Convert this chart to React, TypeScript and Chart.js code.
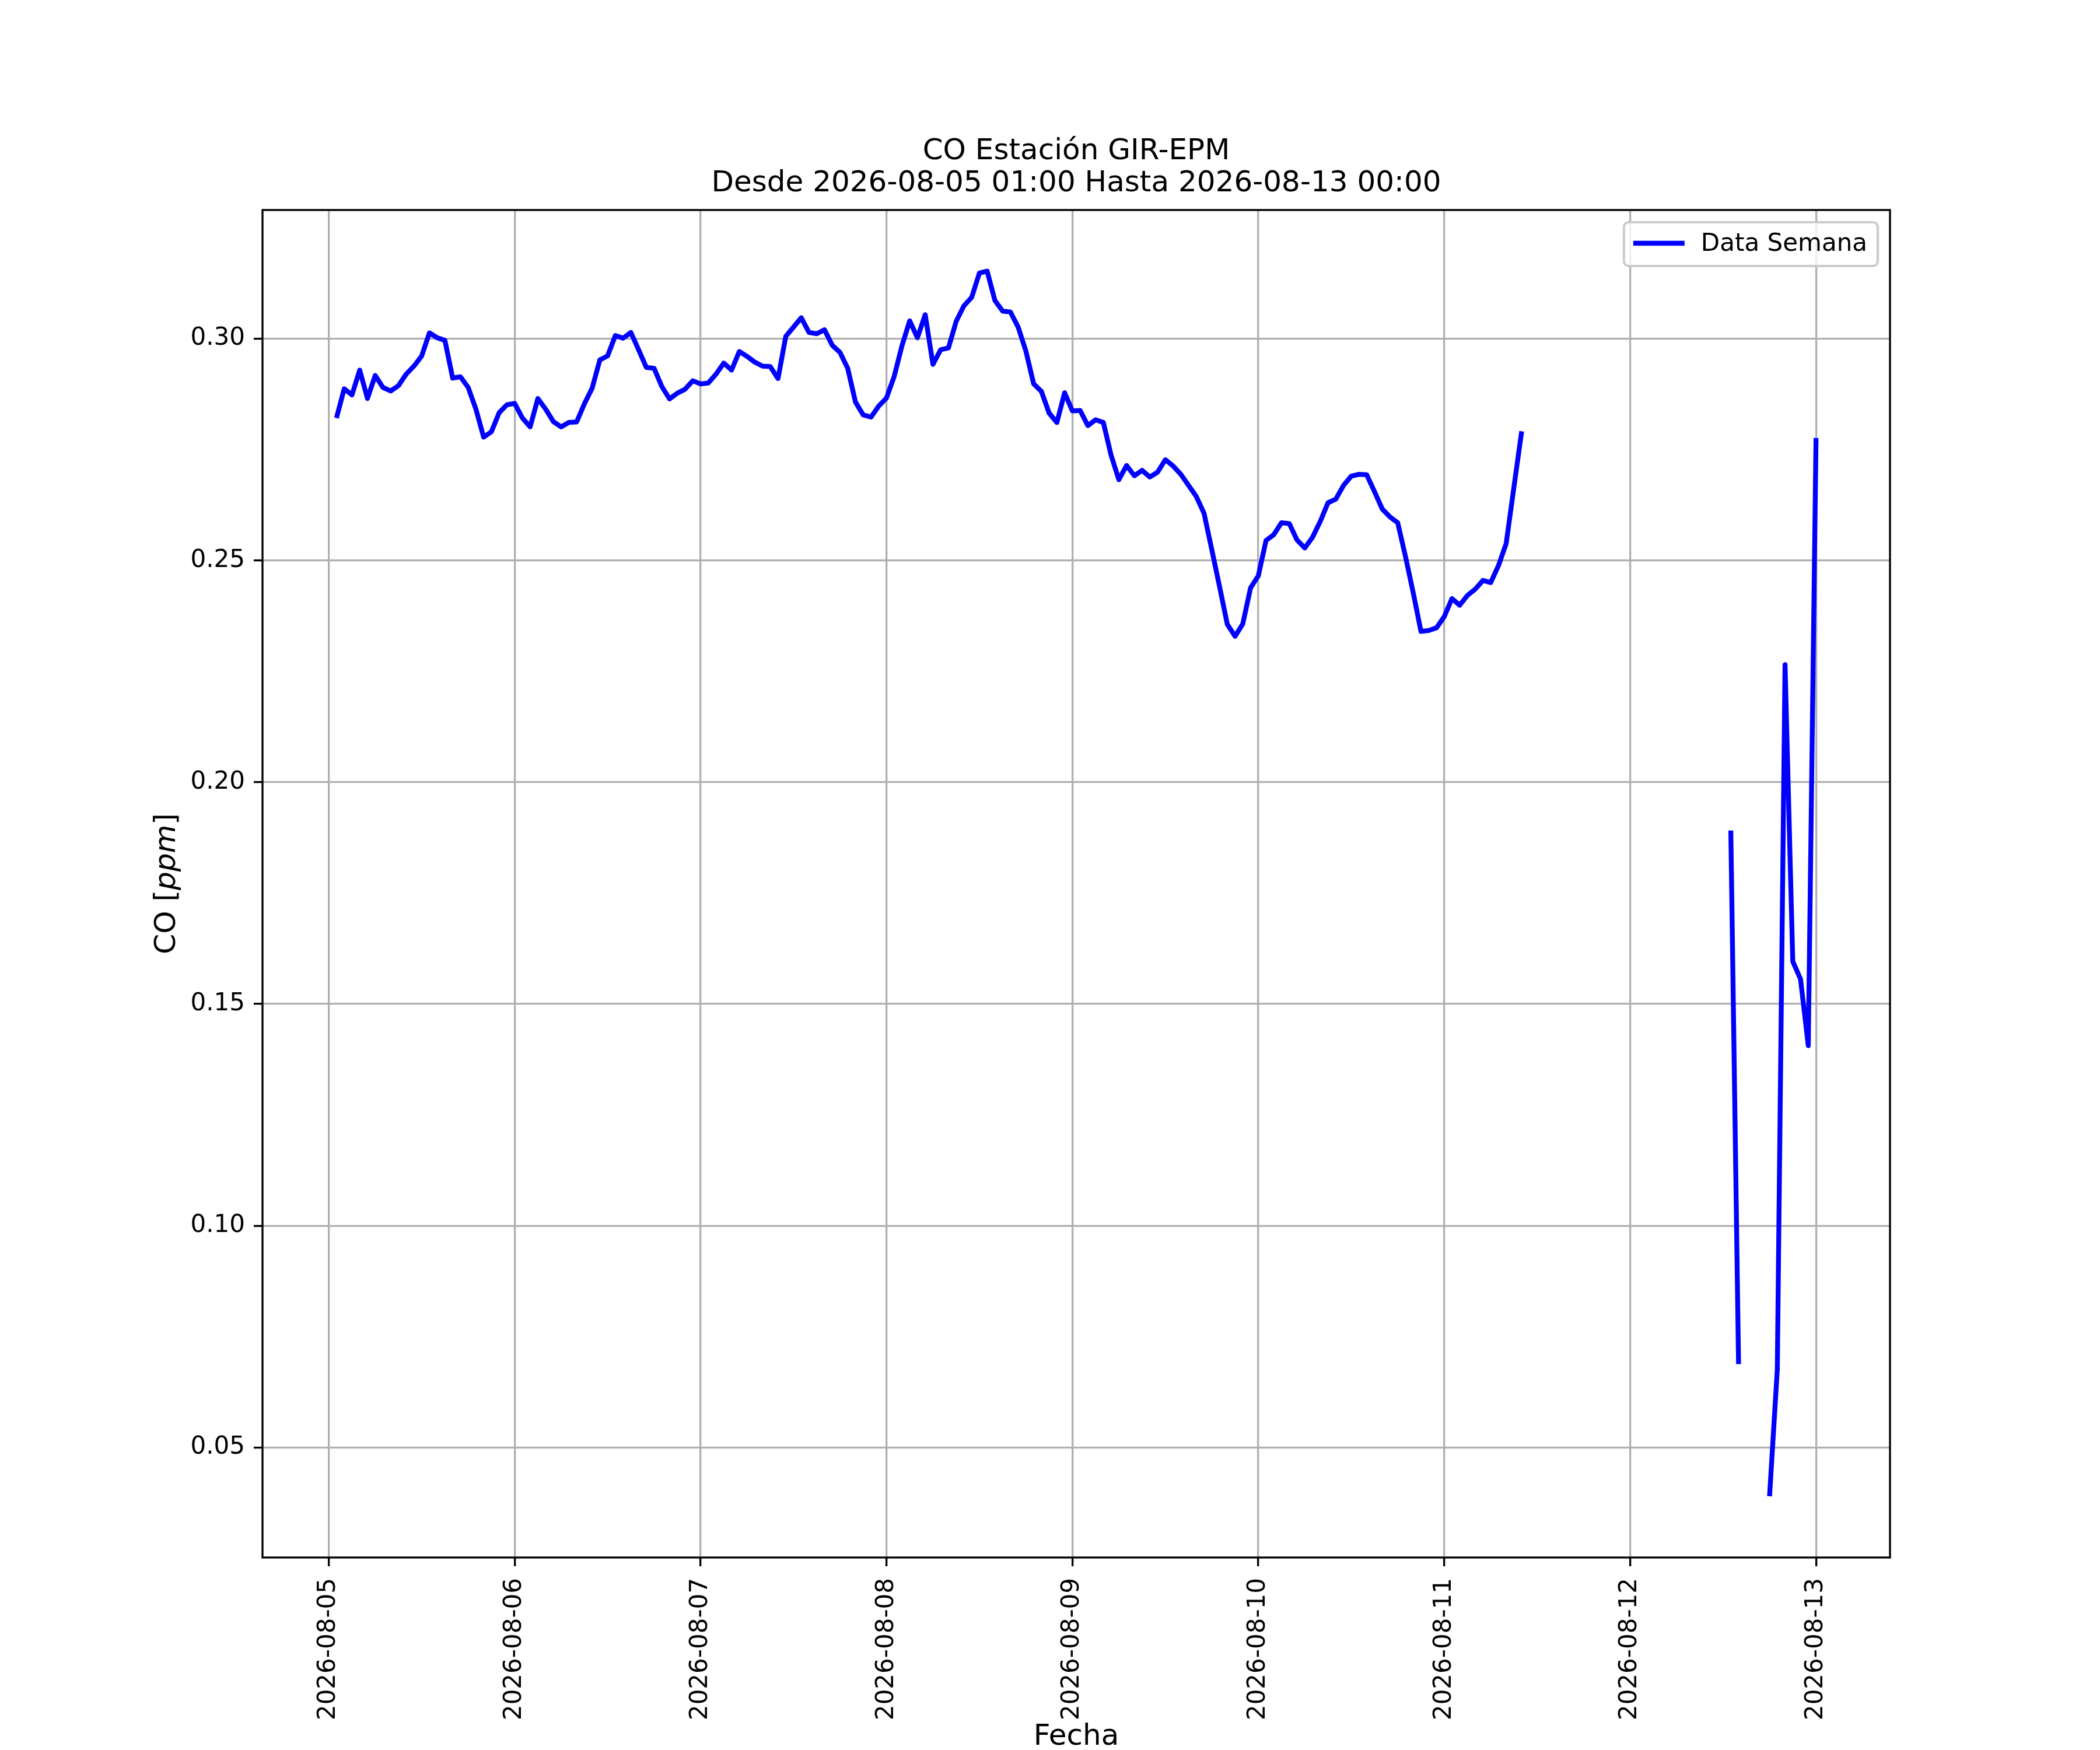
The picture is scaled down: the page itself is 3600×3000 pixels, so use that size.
import { useEffect, useRef } from "react"
import { Chart, registerables } from "chart.js"

Chart.register(...registerables)

const FONT = "'DejaVu Sans', sans-serif"

const chartTitle = ["CO Estación GIR-EPM", "Desde 2026-08-05 01:00 Hasta 2026-08-13 00:00"]
const seriesLabel = "Data Semana"
const xAxisLabel = "Fecha"
const yAxisParts = ["CO [", "ppm", "]"]

// one label per day, at 00:00
const dayLabels = [
  "2026-08-05",
  "2026-08-06",
  "2026-08-07",
  "2026-08-08",
  "2026-08-09",
  "2026-08-10",
  "2026-08-11",
  "2026-08-12",
  "2026-08-13",
]

const yTicks = [0.05, 0.1, 0.15, 0.2, 0.25, 0.3]

// hourly CO [ppm], 2026-08-05 01:00 .. 2026-08-13 00:00 (null = sin dato)
const coValues: (number | null)[] = [
  // 08-05 01:00 - 08-06 00:00
  0.2821, 0.2887, 0.2873, 0.2929, 0.2865, 0.2917, 0.289, 0.2882, 0.2894, 0.292, 0.2938, 0.2961,
  0.3013, 0.3002, 0.2996, 0.2911, 0.2914, 0.289, 0.2841, 0.2778, 0.279, 0.2833, 0.2851, 0.2854,
  // 08-06 01:00 - 08-07 00:00
  0.2821, 0.2801, 0.2865, 0.2841, 0.2813, 0.2801, 0.2811, 0.2812, 0.2853, 0.2888, 0.2952, 0.2961,
  0.3007, 0.3001, 0.3014, 0.2975, 0.2935, 0.2933, 0.2892, 0.2864, 0.2877, 0.2886, 0.2905, 0.2898,
  // 08-07 01:00 - 08-08 00:00
  0.29, 0.292, 0.2945, 0.2929, 0.2971, 0.296, 0.2947, 0.2938, 0.2937, 0.291, 0.3005, 0.3026,
  0.3047, 0.3014, 0.3011, 0.302, 0.2985, 0.2969, 0.2933, 0.2857, 0.2828, 0.2823, 0.2848, 0.2866,
  // 08-08 01:00 - 08-09 00:00
  0.2915, 0.2984, 0.304, 0.3002, 0.3054, 0.2942, 0.2975, 0.2979, 0.3039, 0.3074, 0.3093, 0.3148,
  0.3152, 0.3086, 0.3062, 0.306, 0.3026, 0.2972, 0.2898, 0.2881, 0.2832, 0.2811, 0.2878, 0.2837,
  // 08-09 01:00 - 08-10 00:00
  0.2838, 0.2804, 0.2817, 0.2811, 0.2737, 0.2682, 0.2714, 0.2691, 0.2703, 0.2688, 0.2699, 0.2727,
  0.2713, 0.2694, 0.2669, 0.2644, 0.2606, 0.2524, 0.2441, 0.2356, 0.2329, 0.2357, 0.2438, 0.2465,
  // 08-10 01:00 - 08-11 00:00
  0.2545, 0.2558, 0.2585, 0.2583, 0.2546, 0.2528, 0.2552, 0.2588, 0.263, 0.2638, 0.2669, 0.269,
  0.2694, 0.2693, 0.2655, 0.2616, 0.2598, 0.2585, 0.2509, 0.2427, 0.234, 0.2342, 0.2348, 0.2373,
  // 08-11 01:00 - 08-12 00:00
  0.2414, 0.2399, 0.2421, 0.2435, 0.2455, 0.245, 0.2488, 0.2538, 0.2665, 0.2791, null, null,
  null, null, null, null, null, null, null, null, null, null, null, null,
  // 08-12 01:00 - 08-13 00:00
  null, null, null, null, null, null, null, null, null, null, null, null,
  0.1891, 0.0688, null, null, null, 0.039, 0.0675, 0.2265, 0.1596, 0.1556, 0.1406, 0.2776,
]

const Y_MIN = 0.0252
const Y_MAX = 0.329
const X_MIN = -8.55
const X_MAX = 201.55

const decorPlugin = {
  id: "decor",
  afterDatasetsDraw(chart: Chart) {
    const { ctx, chartArea: a } = chart
    ctx.save()

    // marco de los ejes
    ctx.strokeStyle = "#000000"
    ctx.lineWidth = 3.33
    ctx.strokeRect(a.left, a.top, a.right - a.left, a.bottom - a.top)

    // leyenda arriba a la derecha
    ctx.font = `42px ${FONT}`
    const textW = ctx.measureText(seriesLabel).width
    const boxW = 132 + textW + 18
    const boxH = 75
    const bx = a.right - 21 - boxW
    const by = a.top + 21
    ctx.beginPath()
    ctx.roundRect(bx, by, boxW, boxH, 8)
    ctx.fillStyle = "rgba(255,255,255,0.8)"
    ctx.fill()
    ctx.strokeStyle = "#cccccc"
    ctx.lineWidth = 4.2
    ctx.stroke()
    ctx.beginPath()
    ctx.moveTo(bx + 16, by + 36)
    ctx.lineTo(bx + 104, by + 36)
    ctx.strokeStyle = "#0000ff"
    ctx.lineWidth = 8.33
    ctx.lineCap = "butt"
    ctx.stroke()
    ctx.fillStyle = "#000000"
    ctx.textAlign = "left"
    ctx.textBaseline = "alphabetic"
    ctx.fillText(seriesLabel, bx + 132, by + 49)

    // etiqueta del eje y, con "ppm" en cursiva
    const fonts = [`50px ${FONT}`, `italic 50px ${FONT}`, `50px ${FONT}`]
    const widths = yAxisParts.map((t, i) => {
      ctx.font = fonts[i]
      return ctx.measureText(t).width
    })
    const total = widths.reduce((s, w) => s + w, 0)
    ctx.translate(a.left - 150, (a.top + a.bottom) / 2)
    ctx.rotate(-Math.PI / 2)
    let x = -total / 2
    yAxisParts.forEach((t, i) => {
      ctx.font = fonts[i]
      ctx.fillText(t, x, 0)
      x += widths[i]
    })

    ctx.restore()
  },
}

const App = () => {
  const canvasRef = useRef<HTMLCanvasElement>(null)
  const chartRef = useRef<Chart | null>(null)

  useEffect(() => {
    document.body.style.margin = "0"
    if (!canvasRef.current) return
    if (chartRef.current) chartRef.current.destroy()

    const points = coValues.map((v, i) => ({ x: i + 1, y: v }))

    chartRef.current = new Chart(canvasRef.current, {
      type: "line",
      data: {
        datasets: [
          {
            label: seriesLabel,
            data: points as any,
            borderColor: "#0000ff",
            borderWidth: 8.33,
            borderJoinStyle: "round",
            borderCapStyle: "butt",
            pointRadius: 0,
            tension: 0,
            spanGaps: false,
          },
        ],
      },
      options: {
        animation: false,
        responsive: false,
        devicePixelRatio: 1,
        layout: { padding: { left: 0, right: 360, top: 0, bottom: 0 } },
        plugins: {
          legend: { display: false },
          tooltip: { enabled: false },
          title: {
            display: true,
            text: chartTitle,
            color: "#000000",
            fullSize: false,
            font: { family: FONT, size: 50, weight: "normal", lineHeight: 1.1 },
            padding: { top: 233, bottom: 17 },
          },
        },
        scales: {
          x: {
            type: "linear",
            min: X_MIN,
            max: X_MAX,
            afterBuildTicks: (scale: any) => {
              scale.ticks = dayLabels.map((_, i) => ({ value: i * 24 }))
            },
            afterFit: (scale: any) => {
              scale.height = 330
            },
            ticks: {
              autoSkip: false,
              minRotation: 90,
              maxRotation: 90,
              padding: 20,
              color: "#000000",
              font: { family: FONT, size: 42 },
              callback: (value: any) => dayLabels[Math.round(Number(value) / 24)] ?? "",
            },
            grid: {
              color: "#b0b0b0",
              lineWidth: 3.33,
              tickColor: "#000000",
              tickWidth: 3.33,
              tickLength: 15,
            },
            border: { display: false },
            title: {
              display: true,
              text: xAxisLabel,
              color: "#000000",
              font: { family: FONT, size: 50, lineHeight: 0.88 },
              padding: 0,
            },
          },
          y: {
            type: "linear",
            min: Y_MIN,
            max: Y_MAX,
            afterBuildTicks: (scale: any) => {
              scale.ticks = yTicks.map((v) => ({ value: v }))
            },
            afterFit: (scale: any) => {
              scale.width = 450
            },
            ticks: {
              padding: 15,
              color: "#000000",
              font: { family: FONT, size: 42 },
              callback: (value: any) => Number(value).toFixed(2),
            },
            grid: {
              color: "#b0b0b0",
              lineWidth: 3.33,
              tickColor: "#000000",
              tickWidth: 3.33,
              tickLength: 15,
            },
            border: { display: false },
          },
        },
      },
      plugins: [decorPlugin],
    })

    return () => {
      if (chartRef.current) {
        chartRef.current.destroy()
        chartRef.current = null
      }
    }
  }, [])

  return (
    <div style={{ width: 3600, height: 3000, background: "#ffffff" }}>
      <canvas ref={canvasRef} width={3600} height={3000} style={{ display: "block" }} />
    </div>
  )
}

export default App
